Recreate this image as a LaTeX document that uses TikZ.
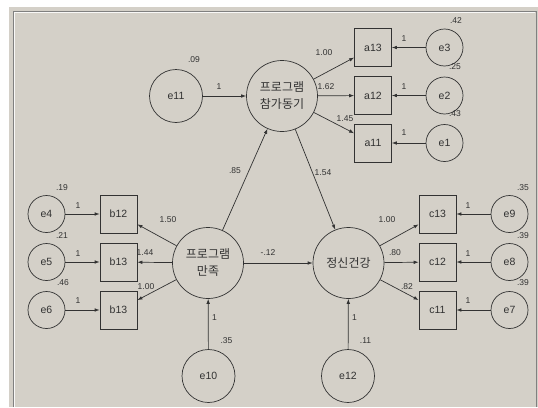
\documentclass[tikz,border=0pt]{standalone}
\usepackage{fontspec}
\setmainfont{Liberation Sans}
\newfontfamily\kr{Noto Sans CJK KR}
\usetikzlibrary{arrows.meta}
\definecolor{bgray}{RGB}{212,208,200}
\definecolor{frameline}{RGB}{128,128,128}
\definecolor{ink}{RGB}{50,50,50}
\tikzset{
  latent/.style={circle,draw=ink,line width=0.7pt,minimum size=71pt,inner sep=0pt,align=center,font=\kr\fontsize{12}{17}\selectfont,text=ink},
  bigerr/.style={circle,draw=ink,line width=0.7pt,minimum size=53pt,inner sep=0pt,font=\fontsize{10.5}{12}\selectfont,text=ink},
  err/.style={circle,draw=ink,line width=0.7pt,minimum size=37pt,inner sep=0pt,font=\fontsize{10.5}{12}\selectfont,text=ink},
  obs/.style={rectangle,draw=ink,line width=0.7pt,minimum width=37pt,minimum height=38pt,inner sep=0pt,font=\fontsize{10.5}{12}\selectfont,text=ink},
  num/.style={inner sep=0pt,font=\fontsize{8.5}{10}\selectfont,text=ink},
  path/.style={draw=ink,line width=0.7pt,-{Latex[length=5pt,width=3.6pt]}}
}
\begin{document}
\begin{tikzpicture}[x=1pt,y=-1pt]
\useasboundingbox (0,0) rectangle (538,407);
\fill[white] (0,0) rectangle (538,407);
\fill[bgray] (9,7) rectangle (538,407);
\draw[frameline,line width=1pt] (13,407) -- (13,11) -- (536,11) -- (536,407);
\draw[white!85!bgray,line width=0.6pt] (14.2,407) -- (14.2,12.2) -- (534.8,12.2);

% top part
\node[bigerr] (e11) at (176,96) {e11};
\node[latent] (L1) at (282,96) {프로그램\\참가동기};
\node[obs] (a13) at (373,47.5) {a13};
\node[obs] (a12) at (373,95.5) {a12};
\node[obs] (a11) at (373,143) {a11};
\node[err] (e3) at (444.5,47.5) {e3};
\node[err] (e2) at (444.5,95.5) {e2};
\node[err] (e1) at (444.5,143) {e1};

% bottom left
\node[err] (e4) at (46.5,214) {e4};
\node[err] (e5) at (46.5,262) {e5};
\node[err] (e6) at (46.5,310) {e6};
\node[obs] (b12) at (118.5,214) {b12};
\node[obs] (b13a) at (118.5,262) {b13};
\node[obs] (b13b) at (118.5,310) {b13};
\node[latent] (L2) at (208,263) {프로그램\\만족};
\node[bigerr] (e10) at (208.5,376) {e10};

% bottom right
\node[latent] (L3) at (348.5,263) {정신건강};
\node[bigerr] (e12) at (348,376) {e12};
\node[obs] (c13) at (437.5,214) {c13};
\node[obs] (c12) at (437.5,262) {c12};
\node[obs] (c11) at (437.5,310) {c11};
\node[err] (e9) at (509.5,214) {e9};
\node[err] (e8) at (509.5,262) {e8};
\node[err] (e7) at (509.5,310) {e7};

% paths
\draw[path] (e11) -- (L1);
\draw[path] (L1) -- (a13);
\draw[path] (L1) -- (a12);
\draw[path] (L1) -- (a11);
\draw[path] (e3) -- (a13);
\draw[path] (e2) -- (a12);
\draw[path] (e1) -- (a11);
\draw[path] (e4) -- (b12);
\draw[path] (e5) -- (b13a);
\draw[path] (e6) -- (b13b);
\draw[path] (L2) -- (b12);
\draw[path] (L2) -- (b13a);
\draw[path] (L2) -- (b13b);
\draw[path] (e10) -- (L2);
\draw[path] (L2) -- (L1);
\draw[path] (L1) -- (L3);
\draw[path] (L2) -- (L3);
\draw[path] (L3) -- (c13);
\draw[path] (L3) -- (c12);
\draw[path] (L3) -- (c11);
\draw[path] (e9) -- (c13);
\draw[path] (e8) -- (c12);
\draw[path] (e7) -- (c11);
\draw[path] (e12) -- (L3);

% labels
\node[num] (v09) at (194,60) {.09};
\node[num] (w11) at (219,87) {1};
\node[num] (wa13) at (324,53) {1.00};
\node[num] (wa12) at (326,87) {1.62};
\node[num] (wa11) at (345,119) {1.45};
\node[num] (we3) at (404,39) {1};
\node[num] (we2) at (404,87) {1};
\node[num] (we1) at (404,133) {1};
\node[num] (v42) at (456,21) {.42};
\node[num] (v25) at (455,67) {.25};
\node[num] (v43) at (455,114) {.43};
\node[num] (w85) at (235,171) {.85};
\node[num] (w154) at (323,173) {1.54};
\node[num] (v19) at (62,188) {.19};
\node[num] (v21) at (62,236) {.21};
\node[num] (v46) at (63,283) {.46};
\node[num] (we4) at (78,206) {1};
\node[num] (we5) at (78,254) {1};
\node[num] (we6) at (78,301) {1};
\node[num] (wb12) at (168,220) {1.50};
\node[num] (wb13a) at (145,253) {1.44};
\node[num] (wb13b) at (146,287) {1.00};
\node[num] (w12) at (268,253) {-.12};
\node[num] (we10) at (214.5,318) {1};
\node[num] (v35a) at (226.5,341) {.35};
\node[num] (we12) at (354.5,318) {1};
\node[num] (v11) at (365.5,341) {.11};
\node[num] (wc13) at (387,220) {1.00};
\node[num] (wc12) at (395,253) {.80};
\node[num] (wc11) at (407,287) {.82};
\node[num] (we9) at (468,206) {1};
\node[num] (we8) at (468,254) {1};
\node[num] (we7) at (468,301) {1};
\node[num] (v35b) at (523,188) {.35};
\node[num] (v39a) at (523,236) {.39};
\node[num] (v39b) at (523,283) {.39};
\end{tikzpicture}
\end{document}
